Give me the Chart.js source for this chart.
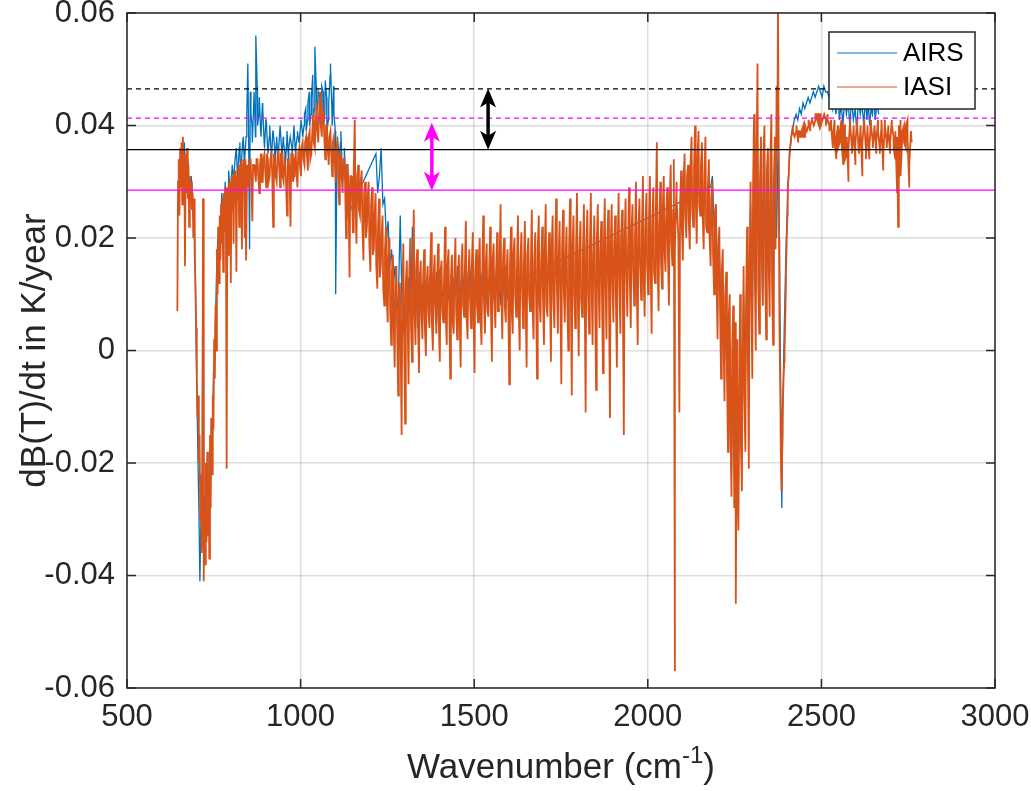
<!DOCTYPE html>
<html>
<head>
<meta charset="utf-8">
<script src="https://cdn.jsdelivr.net/npm/chart.js@4.4.1/dist/chart.umd.min.js"></script>
<style>
  html, body { margin: 0; padding: 0; background: #fff; }
</style>
</head>
<body>
<canvas id="trendChart" width="1031" height="791"></canvas>
<script>
// Brightness temperature trends, dB(T)/dt.
// Values are in units of 1e-3 K/year; divided by 1000 when plotted.

// IASI channels (wavenumber, cm-1), coarse pass
const iasiWn = [
  645, 647, 649, 651, 653, 655, 657, 659, 661, 663,
  665, 667, 669, 671, 673, 675, 677, 679, 681, 683,
  685, 687, 689, 691, 693, 695, 697, 699, 701, 703,
  705, 707, 709, 711, 713, 715, 717, 719, 721, 723,
  725, 727, 729, 731, 733, 735, 737, 739, 741, 743,
  745, 747, 749, 751, 753, 755, 757, 759, 761, 763,
  765, 767, 769, 771, 773, 775, 777, 779, 781, 783,
  785, 787, 789, 791, 793, 795, 797, 799, 801, 803,
  805, 807, 809, 811, 813, 815, 817, 819, 821, 823,
  825, 827, 829, 831, 833, 835, 837, 839, 841, 843,
  846, 851, 856, 861, 866, 871, 876, 881, 886, 891,
  896, 901, 906, 911, 916, 921, 926, 931, 936, 941,
  946, 951, 956, 961, 966, 971, 976, 981, 986, 991,
  996, 1001, 1006, 1011, 1016, 1021, 1026, 1031, 1036, 1041,
  1046, 1051, 1056, 1061, 1066, 1071, 1076, 1081, 1086, 1091,
  1096, 1101, 1106, 1111, 1116, 1121, 1126, 1131, 1136, 1141,
  1146, 1151, 1156, 1161, 1166, 1171, 1176, 1181, 1186, 1191,
  1196, 1201, 1206, 1211, 1216, 1221, 1226, 1231, 1236, 1241,
  1246, 1251, 1256, 1261, 1266, 1271, 1276, 1281, 1286, 1291,
  1296, 1301, 1306, 1311, 1316, 1321, 1326, 1331, 1336, 1341,
  1346, 1351, 1356, 1361, 1366, 1371, 1376, 1381, 1386, 1391,
  1396, 1401, 1406, 1411, 1416, 1421, 1426, 1431, 1436, 1441,
  1446, 1451, 1456, 1461, 1466, 1471, 1476, 1481, 1486, 1491,
  1496, 1501, 1506, 1511, 1516, 1521, 1526, 1531, 1536, 1541,
  1546, 1551, 1556, 1561, 1566, 1571, 1576, 1581, 1586, 1591,
  1596, 1601, 1606, 1611, 1616, 1621, 1626, 1631, 1636, 1641,
  1646, 1651, 1656, 1661, 1666, 1671, 1676, 1681, 1686, 1691,
  1696, 1701, 1706, 1711, 1716, 1721, 1726, 1731, 1736, 1741,
  1746, 1751, 1756, 1761, 1766, 1771, 1776, 1781, 1786, 1791,
  1796, 1801, 1806, 1811, 1816, 1821, 1826, 1831, 1836, 1841,
  1846, 1851, 1856, 1861, 1866, 1871, 1876, 1881, 1886, 1891,
  1896, 1901, 1906, 1911, 1916, 1921, 1926, 1931, 1936, 1941,
  1946, 1951, 1956, 1961, 1966, 1971, 1976, 1981, 1986, 1991,
  1996, 2001, 2006, 2011, 2016, 2021, 2026, 2031, 2036, 2041,
  2046, 2051, 2056, 2061, 2066, 2071, 2075, 2078, 2083, 2091,
  2096, 2101, 2106, 2111, 2116, 2121, 2126, 2131, 2136, 2141,
  2146, 2151, 2156, 2161, 2166, 2171, 2176, 2181, 2186, 2191,
  2196, 2201, 2206, 2211, 2216, 2221, 2226, 2231, 2236, 2241,
  2246, 2249, 2252, 2254, 2257, 2261, 2266, 2271, 2276, 2281,
  2286, 2291, 2296, 2301, 2306, 2311, 2316, 2321, 2326, 2331,
  2336, 2341, 2346, 2351, 2356, 2361, 2366, 2371, 2375, 2379,
  2382, 2385, 2388, 2391, 2394, 2398, 2402, 2406, 2410, 2414,
  2418, 2423, 2428, 2433, 2438, 2443, 2448, 2453, 2458, 2463,
  2468, 2473, 2478, 2483, 2488, 2493, 2498, 2503, 2508, 2513,
  2518, 2523, 2528, 2533, 2538, 2543, 2548, 2553, 2558, 2563,
  2568, 2573, 2578, 2583, 2588, 2593, 2598, 2603, 2608, 2613,
  2618, 2623, 2628, 2633, 2638, 2643, 2648, 2653, 2658, 2663,
  2668, 2673, 2678, 2683, 2688, 2693, 2698, 2703, 2708, 2713,
  2718, 2721, 2724, 2728, 2733, 2738, 2743, 2748, 2753, 2760
];
const iasiTrend = [
  7, 30, 34, 24, 36, 29, 37, 26, 38, 31,
  35, 15, 34, 28, 36, 27, 33, 22, 31, 26,
  30, 25, 28, 20, 27, 17, 12, 4, -5, -12,
  -8, -20, -15, -30, -22, -36, -25, 27, -41, -28,
  -38, -20, -34, -18, -33, -22, -37, -15, -28, -12,
  -22, -8, -14, 2, -5, 8, 0, 18, 10, 22,
  12, 24, 16, 26, 19, 27, 14, 28, 21, 29,
  23, -21, 29, 17, 30, 22, 30, 12, 31, 25,
  31, 19, 32, 26, 32, 14, 31, 27, 33, 22,
  33, 28, 34, 18, 33, 29, 34, 20, 34, 16,
  33, 29, 34, 23, 33, 30, 34, 28, 35, 30,
  35, 29, 34, 31, 35, 22, 34, 30, 36, 29,
  35, 30, 33, 24, 34, 22, 35, 31, 35, 29,
  36, 31, 37, 33, 38, 32, 39, 35, 42, 36,
  44, 37, 46, 38, 42, 34, 40, 33, 39, 31,
  38, 30, 37, 26, 35, 28, 34, 20, 33, 13,
  31, 21, 41, 19, 33, 24, 32, 16, 30, 22,
  30, 14, 29, 18, 28, 11, 27, 15, 24, 8,
  22, 5, 20, 1, 17, -3, 15, -8, 12, -15,
  19, -13, 16, -6, 20, -2, 25, 1, 18, -4,
  16, 2, 18, -1, 15, 4, 21, 0, 17, 3,
  19, -2, 16, 5, 22, 1, 18, -5, 17, 3,
  20, 2, 17, -3, 19, 6, 23, 2, 18, 4,
  21, -4, 18, 5, 20, 1, 24, 3, 19, 6,
  22, -2, 19, 4, 21, 7, 26, 2, 20, 5,
  18, -6, 22, 3, 20, 6, 24, 0, 21, 4,
  23, -3, 20, 7, 25, 2, 21, -5, 24, 5,
  22, 1, 26, 6, 21, -2, 24, 4, 27, 3,
  23, -6, 25, 5, 22, 0, 27, -8, 24, 4,
  28, -1, 23, 6, 26, -11, 25, 3, 28, 1,
  24, -7, 26, 4, 23, -4, 27, 2, 25, -12,
  26, 5, 24, -3, 28, 3, 25, -15, 27, 6,
  29, 4, 26, 8, 30, 1, 27, 9, 31, 6,
  28, 10, 31, 3, 29, 12, 37, 7, 30, 11,
  31, 14, 29, 8, 33, 15, 34, -57, 30, -11,
  32, 16, 35, 20, 33, 18, 38, 22, 40, 19,
  39, 24, 37, 18, 38, 21, 34, 15, 30, 10,
  26, 2, 22, -5, 18, -9, 14, -18, 10, -26,
  8, -28, 5, -45, 2, -32, 10, -25, 15, -18,
  22, -21, 30, -5, 42, 0, 51, 3, 38, 8,
  40, 2, 36, 6, 42, 1, 38, 47, 62, 5,
  -10, -25, -15, -5, 0, 12, 24, 31, 36, 38,
  40, 38, 39, 37, 39, 38, 40, 38, 39, 40,
  39, 41, 40, 41, 42, 40, 42, 41, 42, 41,
  42, 40, 41, 36, 41, 34, 40, 37, 41, 33,
  40, 35, 30, 41, 36, 40, 33, 41, 35, 40,
  31, 41, 36, 40, 34, 41, 37, 40, 35, 41,
  36, 40, 32, 41, 37, 40, 35, 41, 38, 34,
  28, 22, 35, 41, 38, 40, 36, 41, 29, 37
];

// IASI channels in between, second pass (wavenumber, cm-1)
const iasiWnFine = [
  848, 853, 858, 863, 868, 873, 878, 883, 888, 893,
  898, 903, 908, 913, 918, 923, 928, 933, 938, 943,
  948, 953, 958, 963, 968, 973, 978, 983, 988, 993,
  998, 1003, 1008, 1013, 1018, 1023, 1028, 1033, 1038, 1043,
  1048, 1053, 1058, 1063, 1068, 1073, 1078, 1083, 1088, 1093,
  1098, 1103, 1108, 1113, 1118, 1123, 1128, 1133, 1138, 1143,
  1148, 1153, 1158, 1163, 1168, 1173, 1178, 1183, 1188, 1193,
  1198, 1203, 1208, 1213, 1218, 1223, 1228, 1233, 1238, 1243,
  1248, 1253, 1258, 1263, 1268, 1273, 1278, 1283, 1288, 1293,
  1298, 1303, 1308, 1313, 1318, 1323, 1328, 1333, 1338, 1343,
  1348, 1353, 1358, 1363, 1368, 1373, 1378, 1383, 1388, 1393,
  1398, 1403, 1408, 1413, 1418, 1423, 1428, 1433, 1438, 1443,
  1448, 1453, 1458, 1463, 1468, 1473, 1478, 1483, 1488, 1493,
  1498, 1503, 1508, 1513, 1518, 1523, 1528, 1533, 1538, 1543,
  1548, 1553, 1558, 1563, 1568, 1573, 1578, 1583, 1588, 1593,
  1598, 1603, 1608, 1613, 1618, 1623, 1628, 1633, 1638, 1643,
  1648, 1653, 1658, 1663, 1668, 1673, 1678, 1683, 1688, 1693,
  1698, 1703, 1708, 1713, 1718, 1723, 1728, 1733, 1738, 1743,
  1748, 1753, 1758, 1763, 1768, 1773, 1778, 1783, 1788, 1793,
  1798, 1803, 1808, 1813, 1818, 1823, 1828, 1833, 1838, 1843,
  1848, 1853, 1858, 1863, 1868, 1873, 1878, 1883, 1888, 1893,
  1898, 1903, 1908, 1913, 1918, 1923, 1928, 1933, 1938, 1943,
  1948, 1953, 1958, 1963, 1968, 1973, 1978, 1983, 1988, 1993,
  1998, 2003, 2008, 2013, 2018, 2023, 2028, 2033, 2038, 2043,
  2048, 2053, 2058, 2063, 2068, 2073, 2078, 2083, 2088, 2093,
  2098, 2103, 2108, 2113, 2118, 2123, 2128, 2133, 2138, 2143,
  2148, 2153, 2158, 2163, 2168, 2173, 2178, 2183, 2188, 2193,
  2198, 2203, 2208, 2213, 2218, 2223, 2228, 2233, 2238, 2243,
  2248, 2253, 2258, 2263, 2268, 2273, 2278, 2283, 2288, 2293,
  2298, 2303, 2308, 2313, 2318, 2323, 2328, 2333, 2338, 2343,
  2348, 2353, 2358, 2363, 2368, 2373, 2378, 2383, 2388, 2393,
  2398, 2403, 2408, 2413, 2418, 2423, 2428, 2433, 2438, 2443,
  2448, 2453, 2458, 2463, 2468, 2473, 2478, 2483, 2488, 2493,
  2498, 2503, 2508, 2513, 2518, 2523, 2528, 2533, 2538, 2543,
  2548, 2553, 2558, 2563, 2568, 2573, 2578, 2583, 2588, 2593,
  2598, 2603, 2608, 2613, 2618, 2623, 2628, 2633, 2638, 2643,
  2648, 2653, 2658, 2663, 2668, 2673, 2678, 2683, 2688, 2693,
  2698, 2703, 2708, 2713, 2718, 2723, 2728, 2733, 2738, 2743,
  2748, 2753, 2758
];
const iasiTrendFine = [
  31, 34, 30, 33, 32, 34, 31, 33, 30, 34,
  32, 35, 30, 34, 32, 35, 31, 34, 33, 35,
  31, 34, 30, 34, 32, 35, 30, 34, 32, 35,
  33, 36, 34, 37, 35, 38, 34, 38, 37, 40,
  39, 42, 40, 43, 38, 40, 36, 38, 35, 37,
  34, 36, 32, 35, 31, 34, 30, 33, 28, 31,
  27, 32, 26, 31, 25, 30, 22, 28, 20, 27,
  19, 26, 17, 24, 15, 22, 13, 20, 11, 18,
  9, 16, 7, 14, 5, 12, 4, 11, 2, 10,
  3, 12, 6, 14, 4, 13, 7, 15, 5, 12,
  6, 13, 4, 12, 7, 14, 5, 13, 8, 12,
  5, 14, 7, 12, 6, 15, 8, 13, 5, 14,
  7, 13, 6, 15, 8, 14, 6, 13, 9, 15,
  7, 14, 8, 16, 6, 13, 9, 15, 7, 14,
  8, 16, 9, 14, 7, 15, 10, 16, 8, 14,
  9, 15, 7, 17, 10, 14, 8, 16, 11, 15,
  9, 17, 10, 15, 8, 16, 11, 18, 9, 16,
  10, 17, 8, 16, 11, 18, 9, 17, 12, 16,
  10, 18, 11, 16, 9, 17, 12, 18, 10, 17,
  11, 18, 9, 17, 12, 19, 10, 18, 13, 17,
  11, 19, 12, 18, 10, 17, 13, 19, 11, 18,
  12, 19, 10, 18, 13, 20, 11, 19, 14, 18,
  13, 21, 14, 20, 12, 22, 15, 21, 13, 22,
  15, 22, 16, 23, 14, 24, 17, 22, 16, 25,
  18, 24, 17, 26, 19, 25, 18, 27, 20, 26,
  22, 30, 24, 31, 23, 33, 25, 32, 27, 34,
  26, 33, 24, 31, 22, 29, 20, 27, 17, 24,
  12, 18, 8, 14, 2, 10, -4, 6, -12, 0,
  -18, -6, -22, -10, -16, -2, -8, 8, 0, 14,
  10, 28, 15, 33, 12, 30, 18, 35, 14, 32,
  16, 34, 12, 30, 18, 36, 20, -18, -12, -2,
  14, 29, 35, 38, 39, 38, 40, 39, 38, 39,
  38, 40, 39, 41, 40, 41, 40, 42, 41, 42,
  40, 41, 42, 40, 41, 39, 40, 38, 37, 38,
  36, 39, 37, 40, 34, 38, 36, 40, 35, 39,
  37, 40, 35, 39, 37, 41, 34, 39, 36, 40,
  36, 40, 37, 39, 35, 41, 34, 40, 36, 39,
  37, 40, 36, 39, 38, 40, 31, 39, 37, 40,
  38, 33, 39
];

// AIRS channels (wavenumber, cm-1); gaps are bridged by straight segments
const airsWn = [
  650, 655, 660, 665, 670, 675, 680, 685, 690, 695,
  698, 701, 704, 707, 710, 713, 716, 719, 722, 725,
  728, 731, 734, 737, 740, 743, 746, 749, 752, 755,
  758, 763, 768, 773, 778, 783, 788, 793, 798, 803,
  808, 813, 818, 823, 828, 833, 838, 843, 848, 853,
  857, 861, 866, 871, 876, 881, 886, 891, 896, 901,
  906, 911, 916, 921, 926, 931, 936, 941, 946, 951,
  956, 961, 966, 971, 976, 981, 986, 991, 996, 1001,
  1006, 1011, 1016, 1021, 1026, 1031, 1036, 1041, 1046, 1051,
  1056, 1061, 1066, 1071, 1076, 1081, 1086, 1091, 1096, 1101,
  1106, 1111, 1116, 1121, 1126, 1131, 1136,
  1217, 1222, 1227, 1232, 1237, 1242, 1247, 1252, 1257, 1262,
  1267, 1272, 1277, 1282, 1287, 1292, 1297, 1302, 1307, 1312,
  1317, 1322, 1327, 1332, 1337, 1342, 1347, 1352, 1357, 1362,
  1367, 1372, 1377, 1382, 1387, 1392, 1397, 1402, 1407, 1412,
  1417, 1422, 1427, 1432, 1437, 1442, 1447, 1452, 1457, 1462,
  1467, 1472, 1477, 1482, 1487, 1492, 1497, 1502, 1507, 1512,
  1517, 1522, 1527, 1532, 1537, 1542, 1547, 1552, 1557, 1562,
  1567, 1572, 1577, 1582, 1587, 1592, 1597, 1602, 1607, 1614,
  2181, 2186, 2191, 2196, 2201, 2206, 2211, 2216, 2221, 2226,
  2231, 2236, 2241, 2246, 2251, 2256, 2261, 2266, 2271, 2276,
  2281, 2286, 2291, 2296, 2301, 2306, 2311, 2316, 2321, 2326,
  2331, 2336, 2341, 2346, 2351, 2356, 2361, 2366, 2371, 2376,
  2381, 2384, 2386, 2389, 2393, 2398, 2404, 2410, 2416, 2422,
  2427, 2432, 2437, 2442, 2447, 2452, 2457, 2462, 2467, 2472,
  2477, 2482, 2487, 2492, 2497, 2502, 2507, 2512, 2517, 2522,
  2527, 2532, 2537, 2542, 2547, 2552, 2557, 2562, 2567, 2572,
  2577, 2582, 2587, 2592, 2597, 2602, 2607, 2612, 2617, 2622,
  2627, 2631, 2635, 2639, 2643, 2647, 2651, 2655, 2660, 2665
];
const airsTrend = [
  29, 35, 31, 37, 30, 34, 27, 31, 26, 20,
  8, -6, -18, -28, -41, -30, -35, 27, -38, -26,
  -33, -22, -30, -18, -25, -12, -16, -4, -2, 6,
  14, 22, 19, 28, 23, 30, 10, 32, 27, 33,
  30, 35, 31, 36, 28, 37, 33, 38, 51, 18,
  42, 37, 46, 56, 40, 45, 38, 43, 36, 41,
  35, 40, 34, 39, 33, 38, 35, 40, 34, 37,
  33, 39, 36, 38, 35, 40, 36, 39, 37, 41,
  38, 42, 39, 44, 40, 45, 41, 54, 42, 46,
  41, 47, 40, 48, 39, 44, 51, 40, 42, 10,
  38, 33, 39, 30, 36, 28, 24,
  35, 28, 31, 36, 26, 27, 20, 23, 15, 18,
  12, 15, 7, 10, 24, 8, 3, 11, 5, 13,
  6, 22, 8, 12, 4, 14, 7, 12, 5, 11,
  9, 13, 6, 12, 8, 14, 5, 13, 9, 11,
  7, 14, 9, 12, 6, 13, 10, 15, 8, 12,
  10, 14, 7, 13, 11, 15, 8, 12, 10, 14,
  9, 13, 11, 16, 8, 12, 10, 15, 9, 13,
  11, 14, 8, 12, 10, 15, 9, 13, 10, 12,
  29, 31, 22, 26, 14, 18, 6, 12, -2, 8,
  -12, 2, -22, 0, -28, -6, -24, 3, -15, 10,
  -6, 18, 0, 26, 6, 32, 10, 36, 12, 30,
  8, 34, 10, 30, 14, 36, 6, 32, 20, 40,
  5, -15, -28, -10, 4, 18, 30, 36, 39, 41,
  42, 41, 43, 42, 44, 43, 44, 45, 44, 45,
  46, 45, 46, 47, 46, 45, 47, 46, 46, 45,
  46, 43, 45, 42, 46, 41, 44, 40, 45, 42,
  44, 40, 45, 41, 43, 39, 45, 42, 44, 40,
  45, 41, 44, 40, 43, 42, 45, 41, 44, 42
];

// AIRS channels in between over the 800-1140 window
const airsWnFine = [
  810, 815, 820, 825, 830, 835, 840, 845, 850, 855,
  860, 865, 870, 875, 880, 885, 890, 895, 900, 905,
  910, 915, 920, 925, 930, 935, 940, 945, 950, 955,
  960, 965, 970, 975, 980, 985, 990, 995, 1000, 1005,
  1010, 1015, 1020, 1025, 1030, 1035, 1040, 1045, 1050, 1055,
  1060, 1065, 1070, 1075, 1080, 1085, 1090, 1095, 1100, 1105,
  1110, 1115, 1120, 1125, 1130, 1135
];
const airsTrendFine = [
  33, 36, 32, 37, 34, 38, 35, 42, 40, 46,
  40, 44, 38, 47, 42, 39, 44, 37, 41, 36,
  38, 35, 39, 36, 37, 34, 39, 36, 38, 35,
  37, 34, 38, 36, 39, 35, 38, 37, 40, 39,
  40, 43, 41, 46, 42, 49, 43, 47, 44, 45,
  43, 46, 42, 45, 41, 49, 43, 47, 39, 36,
  35, 37, 32, 34, 30, 27
];

// Reference levels (K/year): black dashed, magenta dashed, black solid, magenta solid
const refLevels = [0.0465, 0.0413, 0.0357, 0.0285];
const refSpan = [500, 3000];

// Double arrows: wavenumber, lower end, upper end (K/year)
const arrowWn   = [1540, 1378];
const arrowLow  = [0.0357, 0.0284];
const arrowHigh = [0.0466, 0.0405];

const xTicks = [500, 1000, 1500, 2000, 2500, 3000];
const yTicks = [-0.06, -0.04, -0.02, 0, 0.02, 0.04, 0.06];
const seriesNames = ['AIRS', 'IASI'];

const AIRS_BLUE = '#0072BD';
const IASI_ORANGE = '#D95319';
const AXIS_GREY = '#262626';
const FONT = '"Liberation Sans", Arial, Helvetica, sans-serif';

// merge a coarse and a fine pass into one wavenumber-sorted series
function toPoints(wnA, valA, wnB, valB) {
  const pts = wnA.map((x, i) => ({ x, y: valA[i] / 1000 }))
    .concat(wnB.map((x, i) => ({ x, y: valB[i] / 1000 })));
  return pts.sort((p, q) => p.x - q.x);
}

function refLine(level, color, dash) {
  return {
    data: refSpan.map(x => ({ x, y: level })),
    borderColor: color,
    borderWidth: 1.2,
    borderDash: dash,
    pointRadius: 0,
    order: -1,
  };
}

function arrowHead(c, x, tipY, dir) {
  // dir -1: pointing up, +1: pointing down
  const L = 19, W = 8, N = 5;
  c.beginPath();
  c.moveTo(x, tipY);
  c.lineTo(x - W, tipY - dir * L);
  c.lineTo(x, tipY - dir * (L - N));
  c.lineTo(x + W, tipY - dir * L);
  c.closePath();
  c.fill();
}

const decorPlugin = {
  id: 'decor',
  afterDatasetsDraw(chart) {
    const { ctx: c, scales } = chart;
    const colors = ['#000000', '#FF00FF'];
    c.save();
    arrowWn.forEach((wn, i) => {
      const x = scales.x.getPixelForValue(wn);
      const yTop = scales.y.getPixelForValue(arrowHigh[i]);
      const yBot = scales.y.getPixelForValue(arrowLow[i]);
      c.fillStyle = colors[i];
      c.strokeStyle = colors[i];
      c.lineWidth = 3.5;
      c.beginPath();
      c.moveTo(x, yTop + 12);
      c.lineTo(x, yBot - 12);
      c.stroke();
      arrowHead(c, x, yTop, -1);
      arrowHead(c, x, yBot, 1);
    });
    c.restore();
  },
  afterDraw(chart) {
    const { ctx: c, chartArea: a, scales } = chart;
    c.save();

    // axes box
    c.strokeStyle = AXIS_GREY;
    c.lineWidth = 1.5;
    c.strokeRect(a.left, a.top, a.right - a.left, a.bottom - a.top);

    // inward ticks on all four sides
    const tl = 9;
    c.beginPath();
    xTicks.forEach(v => {
      const x = scales.x.getPixelForValue(v);
      c.moveTo(x, a.bottom); c.lineTo(x, a.bottom - tl);
      c.moveTo(x, a.top);    c.lineTo(x, a.top + tl);
    });
    yTicks.forEach(v => {
      const y = scales.y.getPixelForValue(v);
      c.moveTo(a.left, y);  c.lineTo(a.left + tl, y);
      c.moveTo(a.right, y); c.lineTo(a.right - tl, y);
    });
    c.stroke();

    // legend box
    const lx = a.right - 166, ly = a.top + 19, lw = 146, lh = 77;
    c.fillStyle = '#fff';
    c.fillRect(lx, ly, lw, lh);
    c.strokeStyle = AXIS_GREY;
    c.lineWidth = 1.5;
    c.strokeRect(lx, ly, lw, lh);
    const legendColors = [AIRS_BLUE, IASI_ORANGE];
    c.font = '26px ' + FONT;
    c.textBaseline = 'middle';
    c.textAlign = 'left';
    seriesNames.forEach((name, i) => {
      const y = ly + 21 + i * 34;
      c.strokeStyle = legendColors[i];
      c.lineWidth = 1.2;
      c.beginPath(); c.moveTo(lx + 8, y); c.lineTo(lx + 68, y); c.stroke();
      c.fillStyle = '#000';
      c.fillText(name, lx + 74, y + 1);
    });

    // x axis title with superscript
    c.fillStyle = AXIS_GREY;
    c.textBaseline = 'alphabetic';
    const big = '35px ' + FONT, small = '24px ' + FONT;
    c.font = big;
    const w1 = c.measureText('Wavenumber (cm').width;
    const w3 = c.measureText(')').width;
    c.font = small;
    const w2 = c.measureText('-1').width;
    let tx = (a.left + a.right) / 2 - (w1 + w2 + w3) / 2;
    const ty = 778;
    c.font = big;  c.fillText('Wavenumber (cm', tx, ty); tx += w1;
    c.font = small; c.fillText('-1', tx, ty - 15); tx += w2;
    c.font = big;  c.fillText(')', tx, ty);

    // y axis title
    c.translate(45, (a.top + a.bottom) / 2);
    c.rotate(-Math.PI / 2);
    c.textAlign = 'center';
    c.font = big;
    c.fillText('dB(T)/dt in K/year', 0, 0);
    c.restore();
  }
};

function initChart() {
  const canvas = document.getElementById('trendChart');
  if (!canvas || typeof Chart === 'undefined') return;

  new Chart(canvas.getContext('2d'), {
    type: 'line',
    data: {
      datasets: [
        {
          label: seriesNames[0],
          data: toPoints(airsWn, airsTrend, airsWnFine, airsTrendFine),
          borderColor: AIRS_BLUE,
          borderWidth: 1.3,
          pointRadius: 0,
          order: 2,
        },
        {
          label: seriesNames[1],
          data: toPoints(iasiWn, iasiTrend, iasiWnFine, iasiTrendFine),
          borderColor: IASI_ORANGE,
          borderWidth: 1.8,
          pointRadius: 0,
          order: 1,
        },
        refLine(refLevels[0], '#000000', [5, 4]),
        refLine(refLevels[1], '#FF00FF', [5, 4]),
        refLine(refLevels[2], '#000000', []),
        refLine(refLevels[3], '#FF00FF', []),
      ]
    },
    options: {
      responsive: false,
      animation: false,
      events: [],
      layout: { padding: { left: 0, right: 36, top: 13, bottom: 0 } },
      elements: { line: { tension: 0 } },
      plugins: { legend: { display: false }, tooltip: { enabled: false } },
      scales: {
        x: {
          type: 'linear',
          min: 500,
          max: 3000,
          afterBuildTicks: s => { s.ticks = xTicks.map(value => ({ value })); },
          afterFit: s => { s.height = 103; s.paddingLeft = 0; s.paddingRight = 0; },
          border: { display: false },
          grid: { color: 'rgba(0,0,0,0.13)', lineWidth: 1.5, drawTicks: false },
          ticks: {
            padding: 14,
            color: AXIS_GREY,
            font: { family: FONT, size: 31, lineHeight: 1 },
            maxRotation: 0,
            callback: v => String(v),
          }
        },
        y: {
          type: 'linear',
          min: -0.06,
          max: 0.06,
          afterBuildTicks: s => { s.ticks = yTicks.map(value => ({ value })); },
          afterFit: s => { s.width = 127; s.paddingTop = 0; s.paddingBottom = 0; },
          border: { display: false },
          grid: { color: 'rgba(0,0,0,0.13)', lineWidth: 1.5, drawTicks: false },
          ticks: {
            padding: 12,
            color: AXIS_GREY,
            font: { family: FONT, size: 31, lineHeight: 1 },
            callback: v => (Math.abs(v) < 1e-9 ? '0' : v.toFixed(2)),
          }
        }
      }
    },
    plugins: [decorPlugin]
  });
}

if (document.readyState === 'loading') {
  document.addEventListener('DOMContentLoaded', initChart);
} else {
  initChart();
}
</script>
</body>
</html>
